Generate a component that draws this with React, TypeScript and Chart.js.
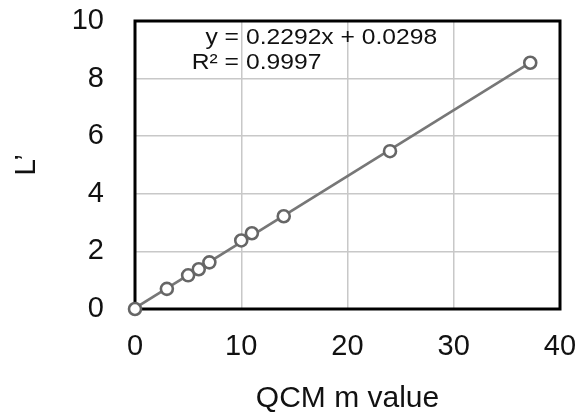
import { useEffect, useRef } from "react";
import { Chart, registerables } from "chart.js";

Chart.register(...registerables);

// QCM m value vs L' measurements
const mValues = [0, 3, 5, 6, 7, 10, 11, 14, 24, 37.2];
const lValues = [0, 0.7, 1.17, 1.38, 1.62, 2.38, 2.63, 3.22, 5.48, 8.55];

// Axis ticks
const xTicks = [0, 10, 20, 30, 40];
const yTicks = [0, 2, 4, 6, 8, 10];

// Linear fit shown on the plot
const slope = 0.2292;
const intercept = 0.0298;
const rSquared = 0.9997;

const FONT = "'Liberation Sans', Arial, Helvetica, sans-serif";

// Black frame around the plotting area, drawn under the markers
const frameBox = {
  id: "frameBox",
  beforeDatasetsDraw(chart: any) {
    const { ctx, chartArea } = chart;
    ctx.save();
    ctx.strokeStyle = "#000";
    ctx.lineWidth = 3;
    ctx.strokeRect(
      chartArea.left,
      chartArea.top,
      chartArea.right - chartArea.left,
      chartArea.bottom - chartArea.top
    );
    ctx.restore();
  },
};

// Fit equation and R² text
const equationLabel = {
  id: "equationLabel",
  afterDatasetsDraw(chart: any) {
    const { ctx, chartArea } = chart;
    const sx = 1.12;
    const eqX = chartArea.left + 104;
    const valX = chartArea.left + 111;
    const rows: [string, string, number][] = [
      ["y =", `${slope}x + ${intercept}`, chartArea.top + 16.5],
      ["R² =", `${rSquared}`, chartArea.top + 42],
    ];
    ctx.save();
    ctx.font = `22px ${FONT}`;
    ctx.fillStyle = "#111";
    ctx.textBaseline = "middle";
    for (const [lhs, rhs, y] of rows) {
      ctx.save();
      ctx.translate(eqX, y);
      ctx.scale(sx, 1);
      ctx.textAlign = "right";
      ctx.fillText(lhs, 0, 0);
      ctx.restore();
      ctx.save();
      ctx.translate(valX, y);
      ctx.scale(sx, 1);
      ctx.textAlign = "left";
      ctx.fillText(rhs, 0, 0);
      ctx.restore();
    }
    ctx.restore();
  },
};

const noScalePadding = (scale: any) => {
  scale.paddingTop = 0;
  scale.paddingBottom = 0;
  scale.paddingLeft = 0;
  scale.paddingRight = 0;
};

export default function App() {
  const canvasRef = useRef<HTMLCanvasElement | null>(null);

  useEffect(() => {
    const canvas = canvasRef.current;
    if (!canvas) return;

    const xMin = Math.min(...mValues);
    const xMax = Math.max(...mValues);
    const fitLine = [
      { x: xMin, y: slope * xMin + intercept },
      { x: xMax, y: slope * xMax + intercept },
    ];

    const chart = new Chart(canvas, {
      type: "scatter",
      data: {
        datasets: [
          {
            label: "L'",
            data: mValues.map((m, i) => ({ x: m, y: lValues[i] })),
            showLine: false,
            pointRadius: 6,
            pointBorderWidth: 2.6,
            pointBorderColor: "#666666",
            pointBackgroundColor: "#ffffff",
            clip: false as any,
            order: 0,
          },
          {
            label: "fit",
            data: fitLine,
            showLine: true,
            borderColor: "#777777",
            borderWidth: 2.6,
            pointRadius: 0,
            order: 1,
          },
        ],
      },
      options: {
        responsive: false,
        animation: false,
        devicePixelRatio: 1,
        layout: { padding: { top: 21, right: 24, left: 0, bottom: 0 } },
        plugins: {
          legend: { display: false },
          tooltip: { enabled: false },
        },
        scales: {
          x: {
            type: "linear",
            min: 0,
            max: 40,
            afterBuildTicks: (scale: any) => {
              scale.ticks = xTicks.map((v) => ({ value: v }));
            },
            afterFit: (scale: any) => {
              scale.height = 105;
              noScalePadding(scale);
            },
            grid: { color: "#c8c8c8", lineWidth: 1.5, drawTicks: false },
            border: { display: false },
            ticks: {
              color: "#111",
              padding: 21,
              font: { family: FONT, size: 29, lineHeight: 1.2 },
              maxRotation: 0,
            },
            title: {
              display: true,
              text: "QCM m value",
              color: "#111",
              font: { family: FONT, size: 30, lineHeight: 1 },
              padding: { top: 0, bottom: 0 },
            },
          },
          y: {
            type: "linear",
            min: 0,
            max: 10,
            afterBuildTicks: (scale: any) => {
              scale.ticks = yTicks.map((v) => ({ value: v }));
            },
            afterFit: (scale: any) => {
              scale.width = 135;
              noScalePadding(scale);
            },
            grid: { color: "#c8c8c8", lineWidth: 1.5, drawTicks: false },
            border: { display: false },
            ticks: {
              color: "#111",
              padding: 31,
              font: { family: FONT, size: 29, lineHeight: 1.2 },
            },
            title: {
              display: true,
              text: "L’",
              color: "#111",
              font: { family: FONT, size: 30, lineHeight: 1 },
              padding: { top: 12, bottom: 0 },
            },
          },
        },
      },
      plugins: [frameBox, equationLabel],
    });

    return () => chart.destroy();
  }, []);

  return (
    <div
      style={{
        position: "absolute",
        left: 0,
        top: 0,
        width: 584,
        height: 414,
        background: "#fff",
      }}
    >
      <canvas ref={canvasRef} width={584} height={414} />
    </div>
  );
}
